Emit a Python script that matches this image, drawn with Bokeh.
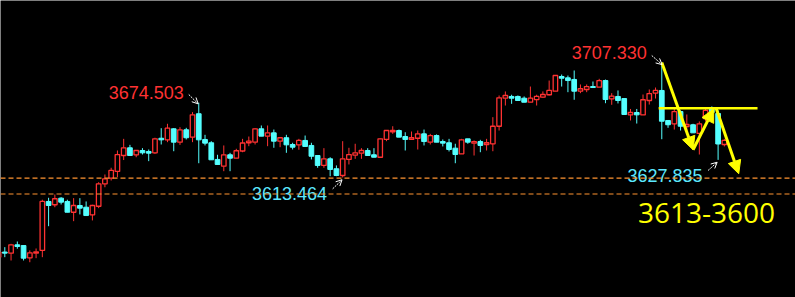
from bokeh.plotting import figure
from bokeh.models import Range1d, Span, Arrow, NormalHead, OpenHead, ColumnDataSource
from bokeh.core.properties import value
from bokeh.embed import file_html
from bokeh.resources import INLINE

# ---- OHLC data (index 0..116) ----
opens = [3548.4, 3552.6, 3551.7, 3558.5, 3557.9, 3547.9, 3551.7, 3553.9, 3593.9, 3591.2,
         3596.6, 3593.9, 3585.1, 3590.6, 3589.2, 3583.0, 3590.0, 3608.3, 3612.9, 3618.4,
         3631.4, 3637.7, 3632.0, 3635.5, 3634.7, 3633.6, 3645.5, 3644.2, 3653.2, 3642.3,
         3652.4, 3646.4, 3665.5, 3644.5, 3641.8, 3628.2, 3622.7, 3632.0, 3629.2, 3635.1,
         3641.8, 3642.3, 3653.2, 3647.2, 3649.9, 3643.1, 3645.9, 3640.4, 3640.1, 3643.7,
         3639.6, 3631.4, 3623.3, 3628.7, 3620.6, 3615.1, 3628.2, 3631.7, 3633.3, 3635.5,
         3632.0, 3630.0, 3644.5, 3650.8, 3651.8, 3646.9, 3644.5, 3645.5, 3649.1, 3642.3,
         3647.7, 3642.8, 3641.8, 3637.4, 3632.8, 3645.0, 3641.5, 3642.8, 3640.4, 3640.9,
         3655.3, 3678.2, 3679.6, 3679.6, 3678.2, 3674.9, 3677.1, 3679.0, 3681.0, 3683.9,
         3695.9, 3694.8, 3693.5, 3683.9, 3685.3, 3687.7, 3687.2, 3692.6, 3677.7, 3679.6,
         3677.9, 3664.6, 3666.5, 3664.5, 3676.3, 3682.4, 3684.5, 3660.0, 3657.3, 3667.3,
         3655.1, 3656.5, 3649.4, 3661.6, 3669.8, 3665.7, 3640.4]
highs = [3553.9, 3556.6, 3559.3, 3561.2, 3557.9, 3553.9, 3555.5, 3595.3, 3596.9, 3599.6,
         3597.4, 3595.3, 3596.6, 3596.6, 3593.9, 3591.2, 3609.6, 3615.9, 3621.4, 3635.5,
         3645.0, 3640.1, 3635.5, 3637.4, 3636.3, 3645.9, 3653.7, 3657.3, 3653.7, 3654.5,
         3654.0, 3666.8, 3674.503, 3648.3, 3643.1, 3632.0, 3639.6, 3633.6, 3636.9, 3645.0,
         3646.9, 3653.7, 3655.9, 3655.9, 3652.6, 3645.9, 3648.3, 3641.8, 3645.0, 3647.7,
         3641.8, 3631.4, 3637.4, 3630.0, 3623.3, 3643.1, 3637.7, 3641.0, 3637.4, 3637.4,
         3637.4, 3645.3, 3651.8, 3655.3, 3652.6, 3650.4, 3651.0, 3651.8, 3652.6, 3649.1,
         3648.6, 3644.5, 3645.0, 3641.0, 3645.0, 3645.0, 3643.7, 3644.2, 3645.0, 3662.7,
         3680.4, 3683.7, 3681.0, 3680.4, 3679.6, 3687.7, 3681.0, 3683.7, 3692.6, 3696.7,
         3697.5, 3696.7, 3700.8, 3689.4, 3689.4, 3691.8, 3694.0, 3693.4, 3682.3, 3684.5,
         3677.9, 3669.4, 3669.4, 3681.2, 3685.3, 3686.9, 3707.33, 3660.0, 3670.8, 3668.2,
         3664.9, 3657.3, 3659.2, 3670.8, 3671.5, 3668.2, 3645.0]
lows = [3547.3, 3548.4, 3545.7, 3555.3, 3545.7, 3544.3, 3547.6, 3548.4, 3573.7, 3589.2,
        3591.4, 3585.1, 3577.8, 3583.3, 3582.4, 3578.4, 3588.4, 3605.5, 3611.0, 3613.7,
        3627.7, 3631.4, 3630.0, 3632.2, 3626.8, 3632.8, 3640.4, 3642.3, 3634.9, 3640.1,
        3644.5, 3642.3, 3625.1, 3639.6, 3627.9, 3624.1, 3618.6, 3618.6, 3629.2, 3634.1,
        3639.0, 3640.4, 3647.2, 3639.0, 3637.7, 3638.2, 3633.6, 3636.3, 3636.1, 3638.8,
        3628.2, 3621.4, 3621.4, 3614.5, 3614.5, 3613.464, 3624.1, 3628.7, 3628.7, 3631.4,
        3630.0, 3630.0, 3643.1, 3649.1, 3646.4, 3635.5, 3644.5, 3636.3, 3639.6, 3640.4,
        3642.3, 3638.8, 3634.7, 3625.1, 3632.8, 3641.0, 3631.4, 3634.1, 3635.5, 3634.9,
        3651.8, 3672.2, 3673.6, 3676.3, 3674.9, 3674.9, 3672.2, 3678.5, 3680.4, 3683.9,
        3687.7, 3683.1, 3676.9, 3682.3, 3683.1, 3686.9, 3687.2, 3674.1, 3672.8, 3673.9,
        3664.9, 3660.0, 3657.5, 3664.5, 3673.0, 3677.9, 3644.7, 3654.0, 3652.6, 3651.8,
        3651.0, 3649.9, 3632.2, 3659.2, 3664.9, 3627.835, 3638.8]
closes = [3552.5, 3551.7, 3558.5, 3557.1, 3547.6, 3552.0, 3552.8, 3593.9, 3590.6, 3596.1,
          3593.3, 3585.1, 3590.6, 3588.4, 3582.4, 3590.6, 3608.3, 3612.4, 3619.2, 3632.2,
          3637.7, 3631.4, 3635.5, 3633.6, 3633.3, 3645.0, 3644.2, 3653.7, 3642.3, 3652.4,
          3645.9, 3664.6, 3644.2, 3641.5, 3627.9, 3624.1, 3632.0, 3629.2, 3635.3, 3641.6,
          3643.1, 3653.2, 3647.2, 3649.9, 3643.1, 3645.9, 3640.1, 3638.2, 3643.7, 3638.8,
          3630.8, 3623.3, 3628.7, 3620.0, 3615.1, 3628.7, 3632.2, 3633.6, 3635.5, 3631.4,
          3630.0, 3645.0, 3651.8, 3651.8, 3646.4, 3644.5, 3645.9, 3649.1, 3642.8, 3647.7,
          3642.3, 3641.5, 3636.3, 3632.2, 3644.2, 3642.3, 3642.8, 3639.6, 3641.8, 3655.3,
          3678.5, 3680.4, 3678.2, 3676.3, 3674.9, 3678.2, 3679.6, 3681.2, 3684.5, 3696.7,
          3694.5, 3692.6, 3683.9, 3685.9, 3687.7, 3686.9, 3692.6, 3677.1, 3679.8, 3676.3,
          3664.9, 3666.5, 3664.6, 3676.9, 3682.0, 3684.5, 3659.4, 3656.5, 3667.3, 3655.3,
          3656.7, 3649.9, 3657.3, 3668.2, 3666.5, 3640.8, 3643.7]

support_levels = [3613.0, 3600.0]
resistance_level = 3670.0
resistance_x = [105.5, 121.3]

# yellow trend arrows (index, price)
trend_arrows = [(106.0, 3707.3, 111.0, 3636.1),
                (111.0, 3636.1, 114.3, 3669.5),
                (114.7, 3669.8, 118.3, 3616.5)]

# labels: (text, x, y, color)
high_low_labels = [("3674.503", 23.6, 3682.6, "#FF3232"),
                   ("3707.330", 97.6, 3715.3, "#FF3232"),
                   ("3613.464", 46.5, 3600.2, "#5CE8FF"),
                   ("3627.835", 106.5, 3615.1, "#5CE8FF")]
pointer_arrows = [(30.4, 3681.2, 31.9, 3673.6),
                  (104.4, 3713.0, 106.05, 3705.6),
                  (53.4, 3604.2, 54.9, 3611.6),
                  (113.4, 3619.2, 114.85, 3625.9)]
target_text = "3613-3600"
target_pos = (113.15, 3584.3)

RED = "#FF3232"
CYAN = "#54FFFF"

idx = list(range(len(opens)))
up = [c >= o for o, c in zip(opens, closes)]

def sub(lst, mask):
    return [v for v, m in zip(lst, mask) if m]

dn = [not u for u in up]
src_up = ColumnDataSource(dict(x=sub(idx, up), o=sub(opens, up), c=sub(closes, up),
                               h=sub(highs, up), l=sub(lows, up)))
src_dn = ColumnDataSource(dict(x=sub(idx, dn), o=sub(opens, dn), c=sub(closes, dn),
                               h=sub(highs, dn), l=sub(lows, dn)))

p = figure(width=795, height=297, output_backend="svg", toolbar_location=None,
           x_range=Range1d(0.313, 127.37), y_range=Range1d(3515.49, 3757.94),
           x_axis_location=None, y_axis_location=None, min_border=0,
           background_fill_color="black", border_fill_color="black",
           outline_line_color=None)
p.grid.visible = False

for lv in support_levels:
    p.add_layout(Span(location=lv, dimension="width", line_color="#FF9430",
                      line_dash="5 3", line_width=1.2))

# wicks
p.segment(x0="x", x1="x", y0="h", y1="l", source=src_up, line_color=RED, line_width=1)
p.segment(x0="x", x1="x", y0="h", y1="l", source=src_dn, line_color=CYAN, line_width=1)
# bodies
p.vbar(x="x", top="c", bottom="o", width=0.72, source=src_up,
       fill_color="black", line_color=RED, line_width=1.3)
p.vbar(x="x", top="o", bottom="c", width=0.75, source=src_dn,
       fill_color=CYAN, line_color=CYAN, line_width=1)

# resistance line
p.line(resistance_x, [resistance_level, resistance_level], line_color="#FFFF00", line_width=2.5)

for (x0, y0, x1, y1) in trend_arrows:
    p.add_layout(Arrow(end=NormalHead(size=13, fill_color="#FFFF00", line_color="#FFFF00"),
                       x_start=x0, y_start=y0, x_end=x1, y_end=y1,
                       line_color="#FFFF00", line_width=3))

for (x0, y0, x1, y1) in pointer_arrows:
    p.add_layout(Arrow(end=OpenHead(size=6, line_color="white", line_width=1),
                       x_start=x0, y_start=y0, x_end=x1, y_end=y1,
                       line_color="white", line_width=1, line_dash="2 1"))

lab_src = ColumnDataSource(dict(t=[l[0] for l in high_low_labels],
                                x=[l[1] for l in high_low_labels],
                                y=[l[2] for l in high_low_labels],
                                c=[l[3] for l in high_low_labels]))
p.text(x="x", y="y", text="t", text_color="c", source=lab_src,
       text_font=value("Liberation Sans"), text_font_size="18px",
       text_align="center", text_baseline="middle")

p.text(x=[target_pos[0]], y=[target_pos[1]], text=[target_text], text_color="#FFFF00",
       text_font=value("Open Sans"), text_font_size="28px",
       text_align="center", text_baseline="middle")

open("out.html", "w").write(file_html(p, INLINE))
